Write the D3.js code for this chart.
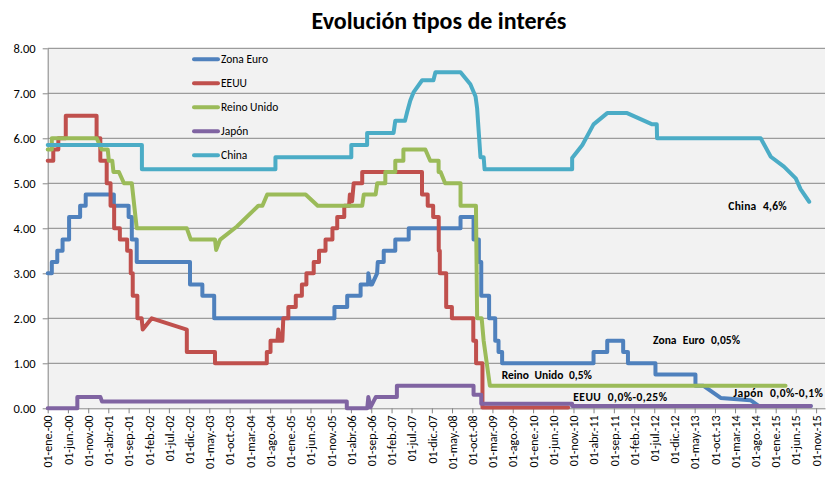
<!DOCTYPE html>
<html><head><meta charset="utf-8">
<script src="https://cdn.jsdelivr.net/npm/d3@7"></script>
<style>
body{margin:0;background:#fff}
svg{display:block}
text{font-family:Carlito,Calibri,Lato,sans-serif;fill:#000}
</style></head>
<body><svg id="chart" width="833" height="483"></svg>
<script>
const S = 1; // flag: vertical step at this date from the previous value

const titleText = "Evolución tipos de interés";
const seriesNames = ["Zona Euro", "EEUU", "Reino Unido", "Japón", "China"];

const zonaEuro = [
  ["2000-01-01",3.00],["2000-02-01",3.25,S],["2000-03-13",3.50,S],["2000-04-22",3.75,S],
  ["2000-06-10",4.25,S],["2000-09-01",4.50,S],["2000-10-13",4.75,S],["2001-05-13",4.50,S],
  ["2001-09-01",4.25,S],["2001-09-25",3.75,S],["2001-11-01",3.25,S],["2002-12-07",2.75,S],
  ["2003-03-10",2.50,S],["2003-06-07",2.00,S],["2005-11-28",2.25,S],["2006-03-04",2.50,S],
  ["2006-06-13",2.75,S],["2006-08-08",2.75],["2006-08-10",3.00],["2006-08-26",2.75],
  ["2006-09-06",2.75],["2006-10-15",3.00],["2006-10-20",3.25],["2006-12-04",3.50,S],
  ["2007-03-01",3.75,S],["2007-06-10",4.00,S],["2008-07-04",4.25,S],["2008-10-10",3.75,S],
  ["2008-11-19",3.25,S],["2008-12-07",2.50,S],["2009-02-04",2.00,S],["2009-03-22",1.50,S],
  ["2009-04-16",1.25,S],["2009-05-13",1.00,S],["2011-04-01",1.25,S],["2011-07-13",1.50,S],
  ["2011-11-10",1.25,S],["2011-12-16",1.00,S],["2012-07-10",0.75,S],["2013-05-07",0.50,S],
  ["2013-07-07",0.50],["2013-11-13",0.23],["2014-06-25",0.18],["2014-08-28",0.05],["2015-09-22",0.05]
];

const eeuu = [
  ["2000-01-01",5.50],["2000-02-12",5.75,S],["2000-03-21",6.00,S],["2000-05-16",6.50,S],
  ["2001-01-03",6.00,S],["2001-01-31",5.50,S],["2001-03-20",5.00,S],["2001-04-18",4.50,S],
  ["2001-05-15",4.00,S],["2001-06-27",3.75,S],["2001-08-21",3.50,S],["2001-09-17",3.00,S],
  ["2001-10-02",2.50,S],["2001-11-06",2.00,S],["2001-12-08",2.00],["2001-12-16",1.75],
  ["2002-02-22",2.00],["2002-11-13",1.75],["2002-11-13",1.25],["2003-06-13",1.00,S],
  ["2004-07-07",1.25,S],["2004-08-04",1.50,S],["2004-09-25",1.50],["2004-10-01",1.75],
  ["2004-10-15",1.50],["2004-11-01",1.50],["2004-11-08",2.00],["2004-12-16",2.25,S],
  ["2005-02-10",2.50,S],["2005-03-28",2.75,S],["2005-05-01",3.00,S],["2005-06-25",3.25,S],
  ["2005-08-04",3.50,S],["2005-09-22",3.75,S],["2005-11-13",4.00,S],["2005-12-19",4.25,S],
  ["2006-02-10",4.50,S],["2006-03-18",4.50],["2006-03-24",4.75],["2006-04-10",4.60],
  ["2006-04-22",5.00],["2006-06-25",5.25,S],["2007-09-18",4.75,S],["2007-10-31",4.50,S],
  ["2007-12-11",4.25,S],["2008-01-22",3.50,S],["2008-01-30",3.00,S],["2008-03-18",2.25,S],
  ["2008-04-30",2.00,S],["2008-10-08",1.50,S],["2008-10-29",1.00,S],["2008-12-16",0.02,S],
  ["2010-09-22",0.02]
];

const reinoUnido = [
  ["2000-01-01",5.75],["2000-02-01",6.00,S],["2001-01-04",6.00],["2001-02-10",5.75],
  ["2001-03-28",5.75],["2001-04-05",5.50],["2001-05-01",5.50],["2001-05-10",5.25],
  ["2001-06-20",5.25],["2001-07-28",5.00],["2001-09-25",5.00],["2001-11-01",4.00],
  ["2002-11-13",4.00],["2002-12-13",3.75],["2003-06-13",3.75],["2003-06-22",3.52],
  ["2003-07-22",3.75],["2003-11-25",4.04],["2004-05-04",4.50],["2004-06-04",4.50],
  ["2004-07-10",4.75],["2005-04-25",4.75],["2005-07-25",4.50],["2006-06-25",4.50],
  ["2006-07-07",4.75],["2006-10-04",4.75],["2006-10-16",5.00],["2006-12-16",5.25,S],
  ["2007-03-01",5.50,S],["2007-05-01",5.75,S],["2007-10-13",5.75],["2007-11-19",5.50],
  ["2008-01-21",5.25,S],["2008-02-05",5.25],["2008-03-10",5.00],["2008-07-04",4.50,S],
  ["2008-10-28",4.50],["2008-11-06",2.00],["2008-12-10",2.00],["2008-12-25",1.50],
  ["2009-02-10",0.50],["2015-03-16",0.50]
];

const japon = [
  ["2000-01-01",0.00],["2000-08-11",0.25,S],["2001-02-01",0.25],["2001-02-13",0.15],
  ["2006-03-01",0.00,S],["2006-08-02",0.00],["2006-08-10",0.25],["2006-08-26",0.02],
  ["2006-10-05",0.25],["2007-03-13",0.50,S],["2008-10-10",0.30,S],["2008-12-07",0.10,S],
  ["2010-10-22",0.05,S],["2015-09-22",0.05]
];

const china = [
  ["2000-01-01",5.85],["2001-12-10",5.31,S],["2004-09-10",5.58,S],["2006-04-04",5.85,S],
  ["2006-08-01",6.12,S],["2007-02-16",6.12],["2007-03-01",6.39],["2007-05-13",6.39],
  ["2007-05-28",6.57],["2007-06-22",6.84],["2007-07-16",7.02],["2007-09-19",7.29],
  ["2007-12-13",7.29],["2007-12-28",7.47],["2008-07-04",7.47],["2008-09-16",7.20],
  ["2008-10-25",6.93],["2008-11-06",6.66],["2008-12-01",5.58],["2008-12-25",5.58],
  ["2009-01-01",5.31],["2010-10-22",5.56,S],["2011-01-07",5.85],["2011-04-01",6.31],
  ["2011-07-13",6.56],["2011-12-10",6.56],["2012-06-16",6.31],["2012-07-20",6.31],
  ["2012-07-22",6.00],["2014-09-10",6.00],["2014-11-25",5.59],["2015-03-04",5.37],
  ["2015-06-01",5.11],["2015-07-07",4.87],["2015-09-10",4.59]
];

const yTicks = [0,1,2,3,4,5,6,7,8];
const xTickLabels = [
  "01-ene.-00","01-jun.-00","01-nov.-00","01-abr.-01","01-sep.-01","01-feb.-02","01-jul.-02",
  "01-dic.-02","01-may.-03","01-oct.-03","01-mar.-04","01-ago.-04","01-ene.-05","01-jun.-05",
  "01-nov.-05","01-abr.-06","01-sep.-06","01-feb.-07","01-jul.-07","01-dic.-07","01-may.-08",
  "01-oct.-08","01-mar.-09","01-ago.-09","01-ene.-10","01-jun.-10","01-nov.-10","01-abr.-11",
  "01-sep.-11","01-feb.-12","01-jul.-12","01-dic.-12","01-may.-13","01-oct.-13","01-mar.-14",
  "01-ago.-14","01-ene.-15","01-jun.-15","01-nov.-15"
];
const annotationTexts = ["Zona Euro 0,05%", "Reino Unido 0,5%", "EEUU 0,0%-0,25%", "Japón 0,0%-0,1%", "China 4,6%"];

// ---------- layout ----------
const colors = ["#4F81BD", "#C0504D", "#9BBB59", "#8064A2", "#4BACC6"];
const seriesData = [zonaEuro, eeuu, reinoUnido, japon, china];
const parse = d3.timeParse("%Y-%m-%d");
const L = 47.7, R = 825, T = 48.3, B = 408.3;

const x = d3.scaleTime().domain([parse("2000-01-01"), parse("2016-01-07")]).range([L, R]);
const y = d3.scaleLinear().domain([0, 8]).range([B, T]);

function expand(pts){
  const out = []; let prev = null;
  for (const p of pts){
    const d = parse(p[0]);
    if (p[2] === S && prev !== null) out.push([d, prev]);
    out.push([d, p[1]]);
    prev = p[1];
  }
  return out;
}

const svg = d3.select("#chart");
svg.append("rect").attr("width",833).attr("height",483).attr("fill","#fff");
svg.append("rect").attr("x",L).attr("y",T).attr("width",R-L).attr("height",B-T).attr("fill","#F2F2F2");

// gridlines
svg.append("g").selectAll("line").data(yTicks.filter(v=>v>0)).join("line")
  .attr("x1",L).attr("x2",R).attr("y1",d=>y(d)).attr("y2",d=>y(d))
  .attr("stroke","#868686").attr("stroke-width",1);

// title
const title = svg.append("text").attr("x",439).attr("y",28.5).attr("text-anchor","middle")
  .attr("font-weight","bold").attr("font-size",22).text(titleText);
(function(){ const w = title.node().getComputedTextLength(); title.attr("font-size", 22*255/w); })();

// axes
const gy = svg.append("g").attr("transform",`translate(${L},0)`)
  .call(d3.axisLeft(y).tickValues(yTicks).tickFormat(d3.format(".2f")).tickSize(5).tickSizeOuter(0).tickPadding(7));
gy.selectAll("text").attr("font-size",12.5).attr("fill","#000");

const tickDates = xTickLabels.map((_, i) => d3.timeMonth.offset(parse("2000-01-01"), 5*i));
const gx = svg.append("g").attr("transform",`translate(0,${B})`)
  .call(d3.axisBottom(x).tickValues(tickDates).tickFormat((d,i)=>xTickLabels[i]).tickSize(5).tickSizeOuter(0));
gx.selectAll("text").attr("font-size",12).attr("fill","#000")
  .attr("transform","rotate(-90)").attr("text-anchor","end")
  .attr("x",-7).attr("y",0).attr("dy","0.35em");
[gx, gy].forEach(g => { g.select(".domain").attr("stroke","#868686"); g.selectAll(".tick line").attr("stroke","#868686"); g.attr("font-family",null); });

// lines
const line = d3.line().x(d=>x(d[0])).y(d=>y(d[1]));
svg.append("g").selectAll("path").data(seriesData).join("path")
  .attr("d", d => line(expand(d)))
  .attr("fill","none").attr("stroke",(d,i)=>colors[i]).attr("stroke-width",4)
  .attr("stroke-linejoin","round").attr("stroke-linecap","round");

// legend
const lg = svg.append("g");
seriesNames.forEach((n,i)=>{
  const yy = 59.3 + i*24;
  lg.append("line").attr("x1",194).attr("x2",218).attr("y1",yy).attr("y2",yy)
    .attr("stroke",colors[i]).attr("stroke-width",4).attr("stroke-linecap","round");
  lg.append("text").attr("x",221).attr("y",yy).attr("dy","0.35em").attr("font-size",11.5).text(n);
});

// annotations: [left x, right x, centre y]; extra space split between words and letters
const annPos = [[653,740,340],[501.7,592,374.7],[573.3,667,396.7],[733.3,823,393.3],[728.3,786.7,205.8]];
const annFont = 11.5;
annotationTexts.forEach((t,i)=>{
  const [x0,x1,yc] = annPos[i];
  const tx = svg.append("text").attr("x",x0).attr("y",yc).attr("dy","0.35em")
    .attr("font-weight","bold").attr("font-size",annFont).text(t);
  const w = tx.node().getComputedTextLength();
  const target = x1 - x0;
  const nSp = (t.match(/ /g) || []).length;
  if (w > target) { tx.attr("font-size", annFont*target/w); return; }
  const extra = target - w;
  const ws = Math.min(extra / Math.max(nSp,1), 3.5);
  const rest = extra - ws*nSp;
  tx.attr("word-spacing", ws.toFixed(2));
  if (rest > 0) tx.attr("letter-spacing", (rest/(t.length-1)).toFixed(2));
});
</script></body></html>
